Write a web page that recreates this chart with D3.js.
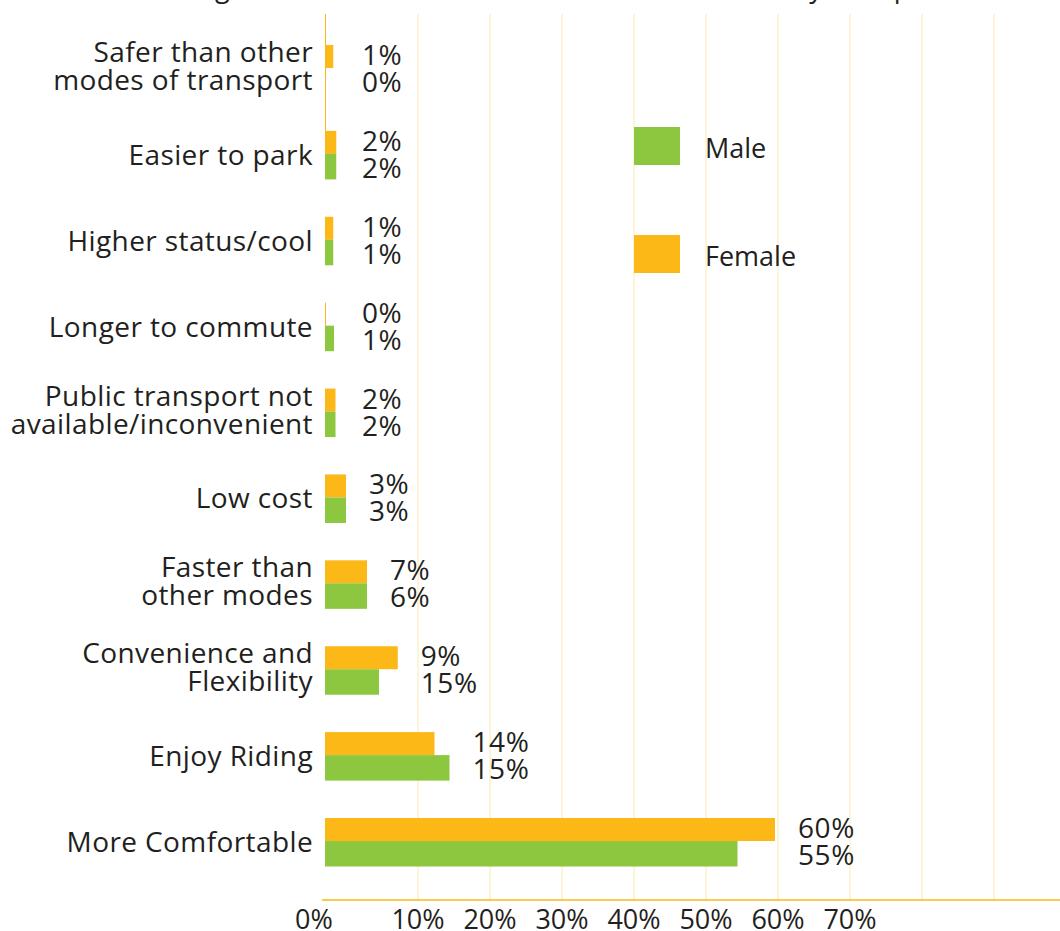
<!DOCTYPE html>
<html>
<head>
<meta charset="utf-8">
<script src="https://cdn.jsdelivr.net/npm/d3@7"></script>
<style>
  body { margin: 0; background: #fff; }
  text { font-family: "Open Sans", sans-serif; fill: #231f20; }
</style>
</head>
<body>
<div id="chart"></div>
<script>
var width = 1060;
var height = 931;

// data (top to bottom)
var categories = ["Safer than other\nmodes of transport", "Easier to park", "Higher status/cool",
    "Longer to commute", "Public transport not\navailable/inconvenient", "Low cost",
    "Faster than\nother modes", "Convenience and\nFlexibility", "Enjoy Riding", "More Comfortable"];
var female = [1.1, 1.5, 1.1, 0, 1.4, 2.8, 5.6, 9.7, 14.6, 60.0];
var male = [0, 1.5, 1.1, 1.2, 1.4, 2.8, 5.6, 7.2, 16.6, 55.0];
var femaleLabels = ["1%", "2%", "1%", "0%", "2%", "3%", "7%", "9%", "14%", "60%"];
var maleLabels = ["0%", "2%", "1%", "1%", "2%", "3%", "6%", "15%", "15%", "55%"];
var tickValues = [0, 10, 20, 30, 40, 50, 60, 70];
var gridValues = [10, 20, 30, 40, 50, 60, 70, 80, 90];
var series = ["Male", "Female"];

var orange = "#fbb817";
var green = "#8dc63f";
var colors = {Male: green, Female: orange};

var svg = d3.select("#chart")
    .append("svg")
    .attr("width", width)
    .attr("height", height);

var x = d3.scaleLinear().domain([0, 100]).range([325, 1075]);
var grid = d3.scaleLinear().domain([0, 100]).range([346, 1066]);
var y = d3.scalePoint().domain(categories).range([68, 841]);

var plotTop = 14, plotBottom = 900;
var fH = 23, mH = 25.5;

// cropped title, only the descenders show
svg.append("text")
    .attr("x", 0)
    .attr("y", -3)
    .attr("font-size", 27)
    .attr("letter-spacing", 0.4)
    .text("Reasons for using two-wheelers as their main mode of travel by a respondent's sex");

// gridlines
svg.append("g")
    .selectAll("line")
    .data(gridValues)
    .enter().append("line")
    .attr("x1", function(d){return grid(d)})
    .attr("x2", function(d){return grid(d)})
    .attr("y1", plotTop)
    .attr("y2", plotBottom)
    .attr("stroke", "#fde8b0")
    .attr("stroke-width", 1);

// bars
var rows = categories.map(function(c, i){
    return {cat: c, f: female[i], m: male[i], fl: femaleLabels[i], ml: maleLabels[i]};
});

svg.append("g")
    .selectAll("rect")
    .data(rows)
    .enter().append("rect")
    .attr("x", x(0))
    .attr("y", function(d){return y(d.cat) - fH})
    .attr("width", function(d){return Math.max(x(d.f) - x(0), 1)})
    .attr("height", fH)
    .attr("fill", orange);

svg.append("g")
    .selectAll("rect")
    .data(rows)
    .enter().append("rect")
    .attr("x", x(0))
    .attr("y", function(d){return y(d.cat)})
    .attr("width", function(d){return Math.max(x(d.m) - x(0), 1)})
    .attr("height", mH)
    .attr("fill", green);

// short piece of the value axis at the top
svg.append("line")
    .attr("x1", x(0) + 0.5)
    .attr("x2", x(0) + 0.5)
    .attr("y1", plotTop)
    .attr("y2", y(categories[1]) - fH)
    .attr("stroke", orange)
    .attr("stroke-width", 1);

// bottom axis line
svg.append("line")
    .attr("x1", x(0) - 3)
    .attr("x2", width)
    .attr("y1", plotBottom)
    .attr("y2", plotBottom)
    .attr("stroke", orange)
    .attr("stroke-width", 1.5);

// value labels
var vals = svg.append("g")
    .selectAll("g")
    .data(rows)
    .enter().append("g")
    .attr("font-size", 28)
    .attr("letter-spacing", 0.6)
    .attr("transform", function(d){
        var lx = Math.max(x(Math.max(d.f, d.m)) + 23, x(0) + 37);
        return "translate(" + lx + "," + y(d.cat) + ")";
    });
vals.append("text")
    .attr("y", -3)
    .text(function(d){return d.fl});
vals.append("text")
    .attr("y", 24)
    .text(function(d){return d.ml});

// category labels
var cats = svg.append("g")
    .selectAll("text")
    .data(categories)
    .enter().append("text")
    .attr("text-anchor", "end")
    .attr("font-size", 28)
    .attr("letter-spacing", 0.4)
    .attr("transform", function(d){return "translate(313," + y(d) + ")"});
cats.selectAll("tspan")
    .data(function(d){
        var lines = d.split("\n");
        return lines.map(function(l, i){return {t: l, dy: lines.length == 1 ? 11 : (i == 0 ? -6 : 22)}});
    })
    .enter().append("tspan")
    .attr("x", 0)
    .attr("y", function(d){return d.dy})
    .text(function(d){return d.t});

// tick labels
svg.append("g")
    .selectAll("text")
    .data(tickValues)
    .enter().append("text")
    .attr("text-anchor", "middle")
    .attr("font-size", 27)
    .attr("x", function(d){return d == 0 ? x(0) - 11 : grid(d)})
    .attr("y", 929)
    .text(function(d){return d + "%"});

// legend
var legend = svg.append("g");
series.forEach(function(s, i){
    var item = legend.append("g")
        .attr("transform", "translate(" + grid(40) + "," + (127 + i * 108) + ")");
    item.append("rect")
        .attr("width", 46)
        .attr("height", 38)
        .attr("fill", colors[s]);
    item.append("text")
        .attr("x", 71)
        .attr("y", 31)
        .attr("font-size", 27)
        .text(s);
});
</script>
</body>
</html>
